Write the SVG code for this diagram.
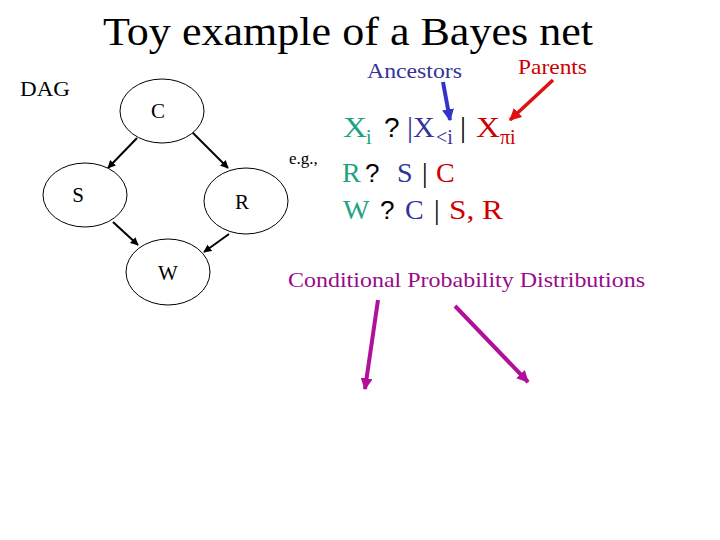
<svg xmlns="http://www.w3.org/2000/svg" width="720" height="540" viewBox="0 0 720 540">
<defs>
<style>
.t{font-family:"Liberation Serif","Times New Roman",serif;}
.q{font-family:"Liberation Sans",Arial,sans-serif;fill:#000;}
.node ellipse{fill:#fff;stroke:#000;stroke-width:1;}
.node text{font-family:"Liberation Serif",serif;font-size:21px;fill:#000;text-anchor:middle;}
.g{fill:#1fa384;}
.b{fill:#333399;}
.r{fill:#cc0000;}
.edge{stroke:#000;stroke-width:2;marker-end:url(#ah);}
</style>
<marker id="ah" viewBox="0 0 10 10" refX="9" refY="5" markerWidth="4" markerHeight="4" orient="auto"><path d="M0,0 L10,5 L0,10 z" fill="#000"/></marker>
<marker id="ahb" viewBox="0 0 10 10" refX="9" refY="5" markerWidth="3" markerHeight="3" orient="auto"><path d="M0,0 L10,5 L0,10 z" fill="#3333cc"/></marker>
<marker id="ahr" viewBox="0 0 10 10" refX="9" refY="5" markerWidth="3.5" markerHeight="3.5" orient="auto"><path d="M0,0 L10,5 L0,10 z" fill="#e01010"/></marker>
<marker id="ahm" viewBox="0 0 10 10" refX="9" refY="5" markerWidth="3" markerHeight="3" orient="auto"><path d="M0,0 L10,5 L0,10 z" fill="#b0109a"/></marker>
</defs>
<rect width="720" height="540" fill="#fff"/>
<text class="t" x="103" y="45" font-size="41" textLength="490" lengthAdjust="spacingAndGlyphs">Toy example of a Bayes net</text>
<text class="t" x="20" y="96" font-size="21" textLength="50" lengthAdjust="spacingAndGlyphs">DAG</text>

<g id="connectors">
<line class="edge" x1="137" y1="138" x2="108" y2="168"/>
<line class="edge" x1="192" y1="132" x2="228" y2="168"/>
<line class="edge" x1="113" y1="222" x2="138" y2="245"/>
<line class="edge" x1="229" y1="234" x2="204" y2="252"/>
<line x1="443" y1="82" x2="450" y2="120" stroke="#3333cc" stroke-width="4" marker-end="url(#ahb)"/>
<line x1="553" y1="80" x2="510" y2="120" stroke="#e01010" stroke-width="3.5" marker-end="url(#ahr)"/>
<line x1="378" y1="300" x2="365" y2="389" stroke="#b0109a" stroke-width="4" marker-end="url(#ahm)"/>
<line x1="455" y1="306" x2="528" y2="382" stroke="#b0109a" stroke-width="4" marker-end="url(#ahm)"/>
</g>

<g id="node-C" class="node"><ellipse cx="162" cy="111" rx="42" ry="32"/><text x="158" y="118">C</text></g>
<g id="node-S" class="node"><ellipse cx="85" cy="195" rx="42" ry="32"/><text x="78" y="202">S</text></g>
<g id="node-R" class="node"><ellipse cx="246" cy="201" rx="42" ry="33"/><text x="242" y="209">R</text></g>
<g id="node-W" class="node"><ellipse cx="168" cy="272" rx="42" ry="33"/><text x="168" y="280">W</text></g>

<text class="t b" x="367" y="78" font-size="21" textLength="95" lengthAdjust="spacingAndGlyphs">Ancestors</text>
<text class="t r" x="518" y="74" font-size="21" textLength="69" lengthAdjust="spacingAndGlyphs">Parents</text>

<g id="formulas" font-size="30">
<text class="t g" x="343" y="137" textLength="24" lengthAdjust="spacingAndGlyphs">X</text>
<text class="t g" x="366" y="144" font-size="20">i</text>
<text class="q" x="384" y="137" font-size="28">?</text>
<text class="t b" x="407" y="137">|X</text>
<text class="t b" x="436" y="144" font-size="20">&lt;i</text>
<text class="t" x="460" y="137" fill="#000">|</text>
<text class="t r" x="476" y="137" textLength="24" lengthAdjust="spacingAndGlyphs">X</text>
<text class="t r" x="500" y="144" font-size="20">πi</text>

<text class="t" x="289" y="164" font-size="17">e.g.,</text>
<text class="t g" x="342" y="182" font-size="28">R</text>
<text class="q" x="365" y="182" font-size="26">?</text>
<text class="t b" x="397" y="182" font-size="28">S</text>
<text class="t" x="422" y="182" font-size="28">|</text>
<text class="t r" x="436" y="182" font-size="28">C</text>

<text class="t g" x="343" y="219" font-size="28">W</text>
<text class="q" x="380" y="219" font-size="26">?</text>
<text class="t b" x="405" y="219" font-size="28">C</text>
<text class="t" x="434" y="219" font-size="28">|</text>
<text class="t r" x="449" y="219" font-size="28" textLength="54" lengthAdjust="spacingAndGlyphs">S, R</text>
</g>

<text class="t" x="288" y="287" font-size="21" fill="#990a8a" textLength="357" lengthAdjust="spacingAndGlyphs">Conditional Probability Distributions</text>
</svg>
